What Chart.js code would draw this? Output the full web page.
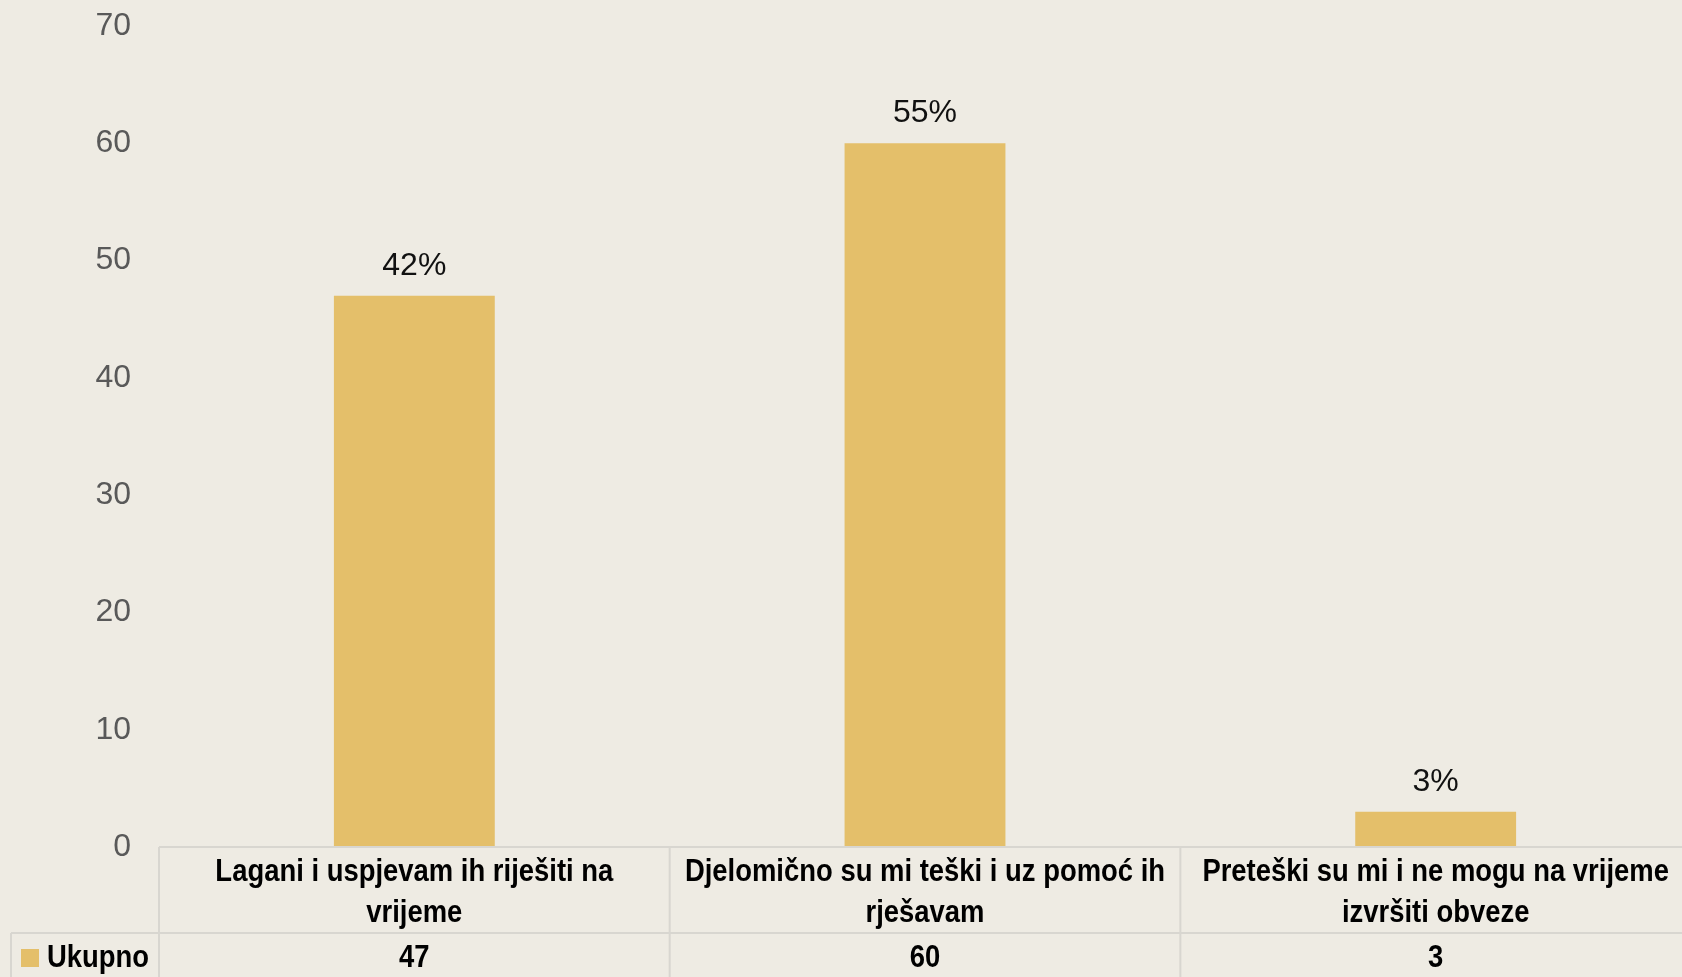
<!DOCTYPE html>
<html>
<head>
<meta charset="utf-8">
<script src="https://cdn.jsdelivr.net/npm/chart.js@4.4.1/dist/chart.umd.min.js"></script>
<style>
  html, body { margin: 0; padding: 0; background: #EEEBE3; overflow: hidden; }
  #clip { width: 1682px; height: 977px; overflow: hidden; position: relative; }
  #wrap { width: 1691px; height: 977px; position: relative; }
</style>
</head>
<body>
<div id="clip"><div id="wrap"><canvas id="c"></canvas></div></div>
<script>
// ---- data ----
const categories = [
  ["Lagani i uspjevam ih riješiti na", "vrijeme"],
  ["Djelomično su mi teški i uz pomoć ih", "rješavam"],
  ["Preteški su mi i ne mogu na vrijeme", "izvršiti obveze"]
];
const seriesName = "Ukupno";
const values = [47, 60, 3];
const percentLabels = ["42%", "55%", "3%"];
const yTicks = [0, 10, 20, 30, 40, 50, 60, 70];

const BAR = "#E4BF6A";
const LINE = "#D8D6D0";
const TABLE_FONT = "bold 31px 'Liberation Sans', Arial, sans-serif";
const SX = 0.885; // horizontal squeeze to mimic a condensed face

function drawSqueezed(ctx, text, x, y, align) {
  ctx.save();
  ctx.translate(x, y);
  ctx.scale(SX, 1);
  ctx.textAlign = align;
  ctx.fillText(text, 0, 0);
  ctx.restore();
}

const tablePlugin = {
  id: 'tablePlugin',
  afterDraw(chart) {
    const ctx = chart.ctx;
    const ca = chart.chartArea;
    const x = chart.scales.x;
    const H = chart.height;
    const n = categories.length;
    const rowY = ca.bottom + 86;
    ctx.save();
    ctx.strokeStyle = LINE;
    ctx.lineWidth = 2;
    ctx.beginPath();
    ctx.moveTo(ca.left, ca.bottom); ctx.lineTo(ca.right, ca.bottom);
    ctx.moveTo(11, rowY); ctx.lineTo(ca.right, rowY);
    ctx.moveTo(11, rowY); ctx.lineTo(11, H);
    const bounds = [ca.left];
    for (let i = 0; i < n - 1; i++) {
      bounds.push((x.getPixelForValue(i) + x.getPixelForValue(i + 1)) / 2);
    }
    bounds.forEach(bx => { ctx.moveTo(bx, ca.bottom); ctx.lineTo(bx, H); });
    ctx.stroke();

    ctx.fillStyle = '#000';
    ctx.font = TABLE_FONT;
    ctx.textBaseline = 'middle';
    categories.forEach((lines, i) => {
      const cx = x.getPixelForValue(i);
      lines.forEach((ln, k) => drawSqueezed(ctx, ln, cx, ca.bottom + 25 + k * 41, 'center'));
    });

    const vy = rowY + 25;
    ctx.fillStyle = BAR;
    ctx.fillRect(21, vy - 9, 18, 18);
    ctx.fillStyle = '#000';
    drawSqueezed(ctx, seriesName, 47, vy, 'left');
    values.forEach((v, i) => drawSqueezed(ctx, String(v), x.getPixelForValue(i), vy, 'center'));
    ctx.restore();
  },
  afterDatasetsDraw(chart) {
    const ctx = chart.ctx;
    const meta = chart.getDatasetMeta(0);
    ctx.save();
    ctx.fillStyle = '#111';
    ctx.font = "32px 'Liberation Sans', Arial, sans-serif";
    ctx.textAlign = 'center';
    ctx.textBaseline = 'middle';
    meta.data.forEach((bar, i) => {
      ctx.fillText(percentLabels[i], bar.x, bar.y - 30);
    });
    ctx.restore();
  }
};

new Chart(document.getElementById('c'), {
  type: 'bar',
  data: {
    labels: categories,
    datasets: [{
      label: seriesName,
      data: values,
      backgroundColor: BAR,
      borderWidth: 0,
      barPercentage: 0.315,
      categoryPercentage: 1.0
    }]
  },
  options: {
    responsive: true,
    maintainAspectRatio: false,
    animation: false,
    layout: { padding: { top: 26, right: 0, left: 0, bottom: 0 } },
    plugins: {
      legend: { display: false },
      tooltip: { enabled: false }
    },
    scales: {
      x: {
        offset: true,
        grid: { display: false, drawTicks: false },
        border: { display: false },
        ticks: { display: false },
        afterFit(scale) { scale.height = 130; scale.paddingLeft = 0; scale.paddingRight = 0; }
      },
      y: {
        min: 0,
        max: 70,
        grid: { display: false, drawTicks: false },
        border: { display: false },
        afterBuildTicks(scale) { scale.ticks = yTicks.map(v => ({ value: v })); },
        ticks: {
          padding: 28,
          color: '#595959',
          font: { family: "'Liberation Sans', Arial, sans-serif", size: 32 }
        },
        afterFit(scale) { scale.width = 159; scale.paddingTop = 0; scale.paddingBottom = 0; }
      }
    }
  },
  plugins: [tablePlugin]
});
</script>
</body>
</html>
